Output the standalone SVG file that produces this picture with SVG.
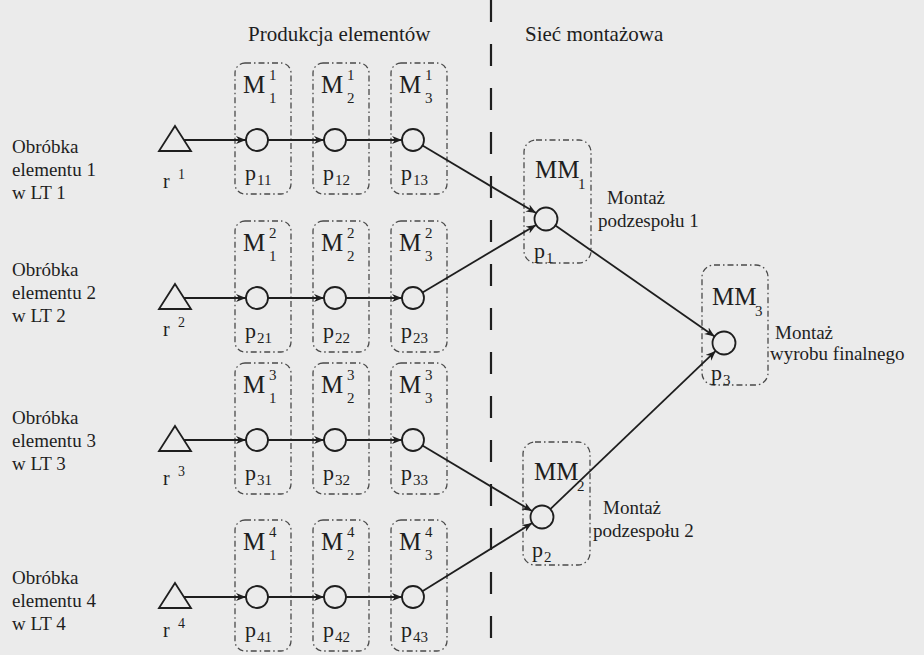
<svg xmlns="http://www.w3.org/2000/svg" width="924" height="655" viewBox="0 0 924 655">
<defs>
<style>
.t{font-family:"Liberation Serif","Times New Roman",serif;fill:#1e1e1e}
.lab{font-size:19px}
.hdr{font-size:21px}
.m{font-size:25px}
.p{font-size:22px}
.s{font-size:15px}
.box{fill:none;stroke:#4a4a4a;stroke-width:1.3;stroke-dasharray:6 3 1.5 3}
.node{fill:none;stroke:#1e1e1e;stroke-width:1.8}
.con{fill:none;stroke:#1e1e1e;stroke-width:1.8;marker-end:url(#ah)}
.sep{stroke:#1e1e1e;stroke-width:2.2;stroke-dasharray:22 22}
</style>
<marker id="ah" markerUnits="userSpaceOnUse" markerWidth="12" markerHeight="10" refX="10" refY="4" orient="auto">
<path d="M0,0 L10,4 L0,8 L3,4 z" fill="#1e1e1e"/>
</marker>
</defs>
<rect x="0" y="0" width="924" height="655" fill="#ebebeb"/>

<line id="separator" class="sep" x1="491" y1="0" x2="491" y2="655"/>
<text class="t hdr" x="248" y="41">Produkcja elementów</text>
<text class="t hdr" x="525" y="41">Sieć montażowa</text>

<!-- left labels -->
<g id="label-row1" class="t lab"><text x="12" y="153">Obróbka</text><text x="12" y="176">elementu 1</text><text x="12" y="199">w LT 1</text></g>
<g id="label-row2" class="t lab"><text x="12" y="276">Obróbka</text><text x="12" y="299">elementu 2</text><text x="12" y="322">w LT 2</text></g>
<g id="label-row3" class="t lab"><text x="12" y="424">Obróbka</text><text x="12" y="447">elementu 3</text><text x="12" y="470">w LT 3</text></g>
<g id="label-row4" class="t lab"><text x="12" y="584">Obróbka</text><text x="12" y="607">elementu 4</text><text x="12" y="630">w LT 4</text></g>

<!-- sources -->
<g id="r1"><path class="node" d="M175,126 L191,151 L159,151 Z"/><text class="t" style="font-size:20px" x="163" y="188">r</text><text class="t" style="font-size:14px" x="178" y="179">1</text></g>
<g id="r2"><path class="node" d="M175,284 L191,309 L159,309 Z"/><text class="t" style="font-size:20px" x="163" y="336">r</text><text class="t" style="font-size:14px" x="178" y="327">2</text></g>
<g id="r3"><path class="node" d="M175,426 L191,451 L159,451 Z"/><text class="t" style="font-size:20px" x="163" y="485">r</text><text class="t" style="font-size:14px" x="178" y="476">3</text></g>
<g id="r4"><path class="node" d="M175,583 L191,608 L159,608 Z"/><text class="t" style="font-size:20px" x="163" y="637">r</text><text class="t" style="font-size:14px" x="178" y="628">4</text></g>

<!-- row 1 machines -->
<g id="M11"><rect class="box" x="235" y="63" width="56" height="131" rx="10"/><circle class="node" cx="257" cy="140" r="11"/><text class="t m" x="243" y="93">M</text><text class="t s" x="269" y="80">1</text><text class="t s" x="269" y="103">1</text><text class="t p" x="245" y="180">p</text><text class="t s" x="257" y="185">11</text></g>
<g id="M12"><rect class="box" x="313" y="63" width="56" height="131" rx="10"/><circle class="node" cx="335" cy="140" r="11"/><text class="t m" x="321" y="93">M</text><text class="t s" x="347" y="80">1</text><text class="t s" x="347" y="103">2</text><text class="t p" x="323" y="180">p</text><text class="t s" x="335" y="185">12</text></g>
<g id="M13"><rect class="box" x="391" y="63" width="56" height="131" rx="10"/><circle class="node" cx="413" cy="140" r="11"/><text class="t m" x="399" y="93">M</text><text class="t s" x="425" y="80">1</text><text class="t s" x="425" y="103">3</text><text class="t p" x="401" y="180">p</text><text class="t s" x="413" y="185">13</text></g>
<!-- row 2 -->
<g id="M21"><rect class="box" x="235" y="221" width="56" height="131" rx="10"/><circle class="node" cx="257" cy="298" r="11"/><text class="t m" x="243" y="251">M</text><text class="t s" x="269" y="238">2</text><text class="t s" x="269" y="261">1</text><text class="t p" x="245" y="338">p</text><text class="t s" x="257" y="343">21</text></g>
<g id="M22"><rect class="box" x="313" y="221" width="56" height="131" rx="10"/><circle class="node" cx="335" cy="298" r="11"/><text class="t m" x="321" y="251">M</text><text class="t s" x="347" y="238">2</text><text class="t s" x="347" y="261">2</text><text class="t p" x="323" y="338">p</text><text class="t s" x="335" y="343">22</text></g>
<g id="M23"><rect class="box" x="391" y="221" width="56" height="131" rx="10"/><circle class="node" cx="413" cy="298" r="11"/><text class="t m" x="399" y="251">M</text><text class="t s" x="425" y="238">2</text><text class="t s" x="425" y="261">3</text><text class="t p" x="401" y="338">p</text><text class="t s" x="413" y="343">23</text></g>
<!-- row 3 -->
<g id="M31"><rect class="box" x="235" y="363" width="56" height="131" rx="10"/><circle class="node" cx="257" cy="440" r="11"/><text class="t m" x="243" y="393">M</text><text class="t s" x="269" y="380">3</text><text class="t s" x="269" y="403">1</text><text class="t p" x="245" y="480">p</text><text class="t s" x="257" y="485">31</text></g>
<g id="M32"><rect class="box" x="313" y="363" width="56" height="131" rx="10"/><circle class="node" cx="335" cy="440" r="11"/><text class="t m" x="321" y="393">M</text><text class="t s" x="347" y="380">3</text><text class="t s" x="347" y="403">2</text><text class="t p" x="323" y="480">p</text><text class="t s" x="335" y="485">32</text></g>
<g id="M33"><rect class="box" x="391" y="363" width="56" height="131" rx="10"/><circle class="node" cx="413" cy="440" r="11"/><text class="t m" x="399" y="393">M</text><text class="t s" x="425" y="380">3</text><text class="t s" x="425" y="403">3</text><text class="t p" x="401" y="480">p</text><text class="t s" x="413" y="485">33</text></g>
<!-- row 4 -->
<g id="M41"><rect class="box" x="235" y="520" width="56" height="131" rx="10"/><circle class="node" cx="257" cy="597" r="11"/><text class="t m" x="243" y="550">M</text><text class="t s" x="269" y="537">4</text><text class="t s" x="269" y="560">1</text><text class="t p" x="245" y="637">p</text><text class="t s" x="257" y="642">41</text></g>
<g id="M42"><rect class="box" x="313" y="520" width="56" height="131" rx="10"/><circle class="node" cx="335" cy="597" r="11"/><text class="t m" x="321" y="550">M</text><text class="t s" x="347" y="537">4</text><text class="t s" x="347" y="560">2</text><text class="t p" x="323" y="637">p</text><text class="t s" x="335" y="642">42</text></g>
<g id="M43"><rect class="box" x="391" y="520" width="56" height="131" rx="10"/><circle class="node" cx="413" cy="597" r="11"/><text class="t m" x="399" y="550">M</text><text class="t s" x="425" y="537">4</text><text class="t s" x="425" y="560">3</text><text class="t p" x="401" y="637">p</text><text class="t s" x="413" y="642">43</text></g>

<!-- assembly nodes -->
<g id="MM1"><rect class="box" x="524" y="140" width="67" height="123" rx="12"/><circle class="node" cx="546" cy="219" r="11.5"/><text class="t m" x="535" y="178">MM</text><text class="t s" x="578" y="189">1</text><text class="t p" x="534" y="258">p</text><text class="t s" x="546" y="263">1</text><text class="t lab" x="607" y="204">Montaż</text><text class="t lab" x="598" y="227">podzespołu 1</text></g>
<g id="MM2"><rect class="box" x="523" y="442" width="67" height="123" rx="12"/><circle class="node" cx="542" cy="517" r="11.5"/><text class="t m" x="534" y="480">MM</text><text class="t s" x="577" y="491">2</text><text class="t p" x="532" y="557">p</text><text class="t s" x="544" y="562">2</text><text class="t lab" x="603" y="514">Montaż</text><text class="t lab" x="593" y="537">podzespołu 2</text></g>
<g id="MM3"><rect class="box" x="702" y="265" width="66" height="120" rx="12"/><circle class="node" cx="724" cy="343" r="11.5"/><text class="t m" x="712" y="305">MM</text><text class="t s" x="755" y="316">3</text><text class="t p" x="711" y="380">p</text><text class="t s" x="723" y="385">3</text><text class="t lab" x="775" y="339">Montaż</text><text class="t lab" x="770" y="360">wyrobu finalnego</text></g>

<g id="connectors">
<line class="con" x1="184" y1="140" x2="246" y2="140"/>
<line class="con" x1="268" y1="140" x2="324" y2="140"/>
<line class="con" x1="346" y1="140" x2="402" y2="140"/>
<line class="con" x1="184" y1="298" x2="246" y2="298"/>
<line class="con" x1="268" y1="298" x2="324" y2="298"/>
<line class="con" x1="346" y1="298" x2="402" y2="298"/>
<line class="con" x1="184" y1="440" x2="246" y2="440"/>
<line class="con" x1="268" y1="440" x2="324" y2="440"/>
<line class="con" x1="346" y1="440" x2="402" y2="440"/>
<line class="con" x1="184" y1="597" x2="246" y2="597"/>
<line class="con" x1="268" y1="597" x2="324" y2="597"/>
<line class="con" x1="346" y1="597" x2="402" y2="597"/>
<line class="con" x1="422.5" y1="145.6" x2="536.1" y2="213.1"/>
<line class="con" x1="422.5" y1="292.4" x2="536.1" y2="224.9"/>
<line class="con" x1="422.4" y1="445.6" x2="532.1" y2="511.1"/>
<line class="con" x1="422.4" y1="591.2" x2="532.2" y2="523.1"/>
<line class="con" x1="555.4" y1="225.6" x2="714.6" y2="336.4"/>
<line class="con" x1="550.3" y1="509.1" x2="715.7" y2="350.9"/>
</g>
</svg>
